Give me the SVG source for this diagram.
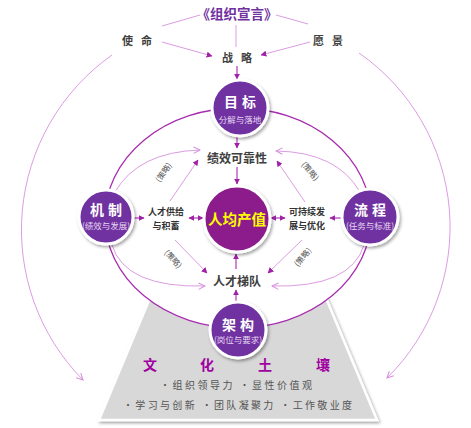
<svg xmlns="http://www.w3.org/2000/svg" width="471" height="428" viewBox="0 0 471 428">
<style>
text{font-family:"Noto Sans CJK SC","Liberation Sans",sans-serif;text-anchor:middle;font-weight:bold}
.lt{fill:none;stroke:#dc9ce2;stroke-width:1}
.dk{fill:none;stroke:#a82bb0;stroke-width:1.3}
.ar{fill:none;stroke:#b03ab8;stroke-width:1.2}
.node{fill:#7030a0;stroke:#fff;stroke-width:3;filter:url(#sh)}
.t{fill:#fff;font-size:14px;letter-spacing:4px}
.s{fill:#e6d6f2;font-size:8.5px;font-weight:normal}
.lab{fill:#404040;font-size:12px}
.gray{fill:#404040;font-size:11px;letter-spacing:8px}
.cl{fill:#555;font-size:8px;font-weight:normal}
.small{fill:#333;font-size:9px}
.cult{fill:#a000a0;font-size:14px}
.bul{fill:#555;font-size:10px;font-weight:normal}
</style>
<defs>
<filter id="sh" x="-30%" y="-30%" width="160%" height="160%"><feDropShadow dx="1.5" dy="2" stdDeviation="1.5" flood-color="#000" flood-opacity="0.35"/></filter>
<marker id="fa" viewBox="0 0 10 10" refX="9" refY="5" markerWidth="6" markerHeight="6" markerUnits="userSpaceOnUse" orient="auto-start-reverse"><path d="M0,0 L10,5 L0,10 z" fill="#a020a8"/></marker>
<marker id="oa" viewBox="0 0 10 10" refX="9" refY="5" markerWidth="8" markerHeight="8" markerUnits="userSpaceOnUse" orient="auto"><path d="M1,1 L9,5 L1,9" fill="none" stroke="#d68ede" stroke-width="1.3"/></marker>
</defs>
<rect width="471" height="428" fill="#fff"/>
<g id="soil">
<path d="M150,298 L326,298 L377,420 L99,420 Z" fill="#d8d8d8" stroke="#fff" stroke-width="2.5" filter="url(#sh)"/>
<ellipse cx="238" cy="218" rx="133" ry="110" fill="#fff" stroke="none"/>
<text class="cult" x="150" y="370">文</text>
<text class="cult" x="207" y="370">化</text>
<text class="cult" x="265" y="370">土</text>
<text class="cult" x="323" y="370">壤</text>
<text class="bul" x="236" y="389" textLength="152" lengthAdjust="spacing">•组织领导力 •显性价值观</text>
<text class="bul" x="237.5" y="409" textLength="229" lengthAdjust="spacing">•学习与创新 •团队凝聚力 •工作敬业度</text>
</g>
<g id="connectors">
<ellipse cx="238" cy="218" rx="133" ry="110" class="dk"/>
<line x1="162" y1="26" x2="200" y2="15" class="lt"/>
<line x1="276" y1="15" x2="308" y2="24" class="lt"/>
<line x1="236" y1="25" x2="236" y2="47" class="lt"/>
<line x1="162" y1="42" x2="212" y2="56" class="lt" marker-end="url(#fa)"/>
<line x1="310" y1="42" x2="261" y2="55" class="lt" marker-end="url(#fa)"/>
<line x1="237" y1="66" x2="237" y2="79" class="ar" marker-end="url(#fa)"/>
<path d="M112,55 A214,214 0 0 0 83,380" class="lt" marker-end="url(#oa)"/>
<path d="M359,53 A212,212 0 0 1 387,378" class="lt" marker-end="url(#oa)"/>
<path d="M115,192 Q138,152 200,150" class="lt" marker-end="url(#oa)"/>
<path d="M360,192 Q337,152 276,151" class="lt" marker-end="url(#oa)"/>
<path d="M112,245 Q125,288 205,286" class="lt" marker-end="url(#oa)"/>
<path d="M364,245 Q351,288 272,286" class="lt" marker-end="url(#oa)"/>
<line x1="170" y1="201" x2="198" y2="160" class="lt" marker-end="url(#fa)"/>
<line x1="305" y1="202" x2="277" y2="161" class="lt" marker-end="url(#fa)"/>
<line x1="175" y1="240" x2="207" y2="273" class="lt" marker-end="url(#fa)"/>
<line x1="302" y1="240" x2="268" y2="273" class="lt" marker-end="url(#fa)"/>
<line x1="237" y1="137" x2="237" y2="148" class="ar" marker-end="url(#fa)"/>
<line x1="237" y1="167" x2="237" y2="184" class="ar" marker-end="url(#fa)"/>
<line x1="236" y1="269" x2="236" y2="254" class="ar" marker-end="url(#fa)"/>
<line x1="236" y1="302" x2="236" y2="290" class="ar" marker-end="url(#fa)"/>
<line x1="133" y1="218" x2="144" y2="218" class="ar" marker-end="url(#fa)"/>
<line x1="341" y1="218" x2="330" y2="218" class="ar" marker-end="url(#fa)"/>
<line x1="189" y1="218" x2="203" y2="218" class="ar" marker-start="url(#fa)" marker-end="url(#fa)"/>
<line x1="271" y1="218" x2="285" y2="218" class="ar" marker-start="url(#fa)" marker-end="url(#fa)"/>
<text class="cl" transform="translate(166,174) rotate(-55)">(策略)</text>
<text class="cl" transform="translate(308,173) rotate(50)">(策略)</text>
<text class="cl" transform="translate(171,261) rotate(48)">(策略)</text>
<text class="cl" transform="translate(305,259) rotate(-50)">(策略)</text>
</g>
<g id="top">
<text x="237" y="19" fill="#7030a0" font-size="13.5px">《组织宣言》</text>
<text class="gray" x="141" y="45">使命</text>
<text class="gray" x="332" y="45">愿景</text>
<text class="gray" x="241" y="62">战略</text>
</g>
<g id="jixiao"><text class="lab" x="237" y="163">绩效可靠性</text></g>
<g id="tidui"><text class="lab" x="237" y="286">人才梯队</text></g>
<g id="gongji"><text class="small" x="166" y="214.5">人才供给</text><text class="small" x="166" y="228.5">与积蓄</text></g>
<g id="chixu"><text class="small" x="307" y="214.5">可持续发</text><text class="small" x="307" y="228.5">展与优化</text></g>
<g id="mubiao"><circle cx="240" cy="108" r="28" class="node"/><text class="t" x="242" y="107">目标</text><text class="s" x="240" y="122.5">分解与落地</text></g>
<g id="jizhi"><circle cx="106" cy="217" r="27" class="node"/><text class="t" x="108" y="215">机制</text><text class="s" x="106" y="228.5">(绩效与发展)</text></g>
<g id="liucheng"><circle cx="370" cy="217" r="28" class="node"/><text class="t" x="372" y="215">流程</text><text class="s" x="370" y="228.5">(任务与标准)</text></g>
<g id="jiagou"><circle cx="238" cy="330" r="28" class="node"/><text class="t" x="240" y="330">架构</text><text class="s" x="238" y="343">(岗位与要求)</text></g>
<g id="renjun"><circle cx="237" cy="219" r="33" fill="#8c1a8c" stroke="#fff" stroke-width="3" filter="url(#sh)"/><text x="237" y="224.5" fill="#ffff00" font-size="14.5px">人均产值</text></g>
</svg>
